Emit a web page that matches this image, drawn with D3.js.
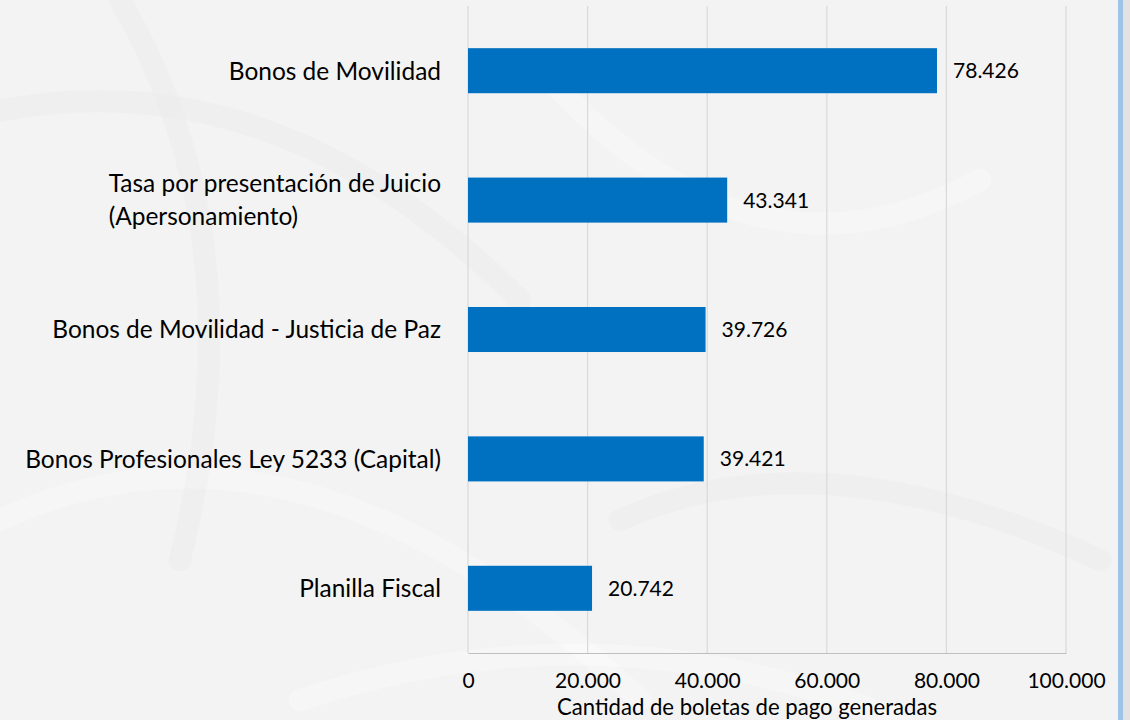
<!DOCTYPE html>
<html>
<head>
<meta charset="utf-8">
<script src="https://cdn.jsdelivr.net/npm/d3@7"></script>
<style>
  body { margin: 0; background: #f3f3f3; }
  svg text { font-family: Lato, "Open Sans", sans-serif; fill: #000; }
</style>
</head>
<body>
<div id="viz-container"></div>
<script>
// data
let categories = [
    ["Bonos de Movilidad"],
    ["Tasa por presentación de Juicio", "(Apersonamiento)"],
    ["Bonos de Movilidad - Justicia de Paz"],
    ["Bonos Profesionales Ley 5233 (Capital)"],
    ["Planilla Fiscal"]
];
let values = [78426, 43341, 39726, 39421, 20742];
let xTicks = [0, 20000, 40000, 60000, 80000, 100000];
let axisTitle = "Cantidad de boletas de pago generadas";

let W = 1130, H = 720;
let plotLeft = 468, plotRight = 1066, plotTop = 6, plotBottom = 653;

let viz = d3.select("#viz-container")
    .append("svg")
        .attr("width", W)
        .attr("height", H)
        .style("display", "block");

// faint background, a rough stand-in for the watermark
viz.append("rect").attr("width", W).attr("height", H).attr("fill", "#f3f3f3");
let deco = viz.append("g").attr("fill", "none").attr("stroke-linecap", "round");
[[ -40, 120, 260, 40, 520, 300 ], [ 0, 520, 300, 380, 640, 700 ], [ 120, 0, 260, 240, 180, 560 ],
 [ 560, 90, 760, 300, 980, 180 ], [ 620, 520, 820, 430, 1100, 560 ], [ 300, 700, 600, 600, 900, 720 ]]
    .forEach(function(p, i){
        deco.append("path")
            .attr("d", "M" + p[0] + "," + p[1] + " Q" + p[2] + "," + p[3] + " " + p[4] + "," + p[5])
            .attr("stroke", i % 2 ? "#ffffff" : "#e9e9e9")
            .attr("stroke-width", 22)
            .attr("opacity", 0.3);
    });
viz.append("rect").attr("x", 1123).attr("width", 7).attr("height", H).attr("fill", "#e2e2e2");
viz.append("rect").attr("x", 1118).attr("width", 5).attr("height", H).attr("fill", "#9dc3e6");

let x = d3.scaleLinear().domain([0, 100000]).range([plotLeft, plotRight]);
let y = d3.scaleBand().domain(d3.range(values.length)).range([plotTop, plotBottom])
    .paddingInner(0.652).paddingOuter(0.326);

let fmt = function(v){ return d3.format(",")(v).replace(/,/g, "."); };

// fit a font size so a sample string gets the measured width
function fitSize(str, target){
    let t = viz.append("text").style("font-size", "100px").text(str);
    let w = t.node().getComputedTextLength();
    t.remove();
    return 100 * target / w;
}
let catSize = fitSize("Bonos Profesionales Ley 5233 (Capital)", 416);
let valSize = fitSize("78.426", 66);
let tickSize = fitSize("20.000", 66);
let titleSize = fitSize(axisTitle, 380);

// gridlines
viz.append("g").selectAll("line").data(xTicks).enter().append("line")
    .attr("x1", d => x(d)).attr("x2", d => x(d))
    .attr("y1", plotTop).attr("y2", plotBottom)
    .attr("stroke", "#d9d9d9").attr("stroke-width", 1.2);

// bars
viz.append("g").selectAll("rect").data(values).enter().append("rect")
    .attr("x", x(0))
    .attr("y", (d, i) => y(i))
    .attr("width", d => x(d) - x(0))
    .attr("height", y.bandwidth())
    .attr("fill", "#0070c0");

// value labels
viz.append("g").selectAll("text").data(values).enter().append("text")
    .attr("x", d => x(d) + 16)
    .attr("y", (d, i) => y(i) + y.bandwidth() / 2 + valSize * 0.36)
    .style("font-size", valSize + "px")
    .text(fmt);

// category labels
let cats = viz.append("g").selectAll("text").data(categories).enter().append("text")
    .style("font-size", catSize + "px");
cats.each(function(lines, i){
    let t = d3.select(this);
    let lh = catSize * 1.35;
    let y0 = y(i) + y.bandwidth() / 2 + catSize * 0.36 - (lines.length - 1) * lh / 2;
    lines.forEach(function(l, j){
        t.append("tspan").attr("y", y0 + j * lh).text(l);
    });
});
// right edge of the block at 441, lines left-aligned inside it
cats.each(function(){
    let t = d3.select(this);
    let w = d3.max(t.selectAll("tspan").nodes(), n => n.getComputedTextLength());
    t.selectAll("tspan").attr("x", 441 - w);
});

// x axis
let xAxis = d3.axisBottom(x).tickValues(xTicks).tickSize(0).tickPadding(0).tickFormat(fmt);
let ax = viz.append("g").attr("transform", "translate(0," + plotBottom + ")").call(xAxis);
ax.select(".domain").attr("stroke", "#bfbfbf").attr("stroke-width", 1.2);
ax.selectAll(".tick text")
    .attr("dy", null)
    .attr("y", 35)
    .style("font-size", tickSize + "px")
    .style("font-family", "Lato, 'Open Sans', sans-serif")
    .attr("fill", "#000");

viz.append("text")
    .attr("x", 747)
    .attr("y", 715)
    .attr("text-anchor", "middle")
    .style("font-size", titleSize + "px")
    .text(axisTitle);
</script>
</body>
</html>
